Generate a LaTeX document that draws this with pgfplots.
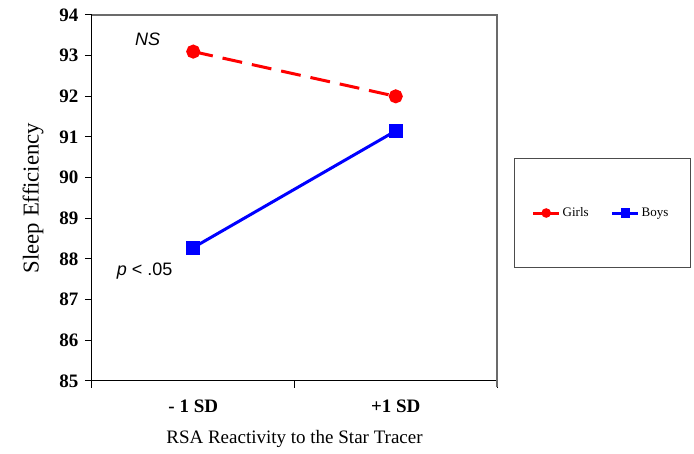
\documentclass[border=0pt]{standalone}
\usepackage{fontspec}
\setmainfont{Liberation Serif}
\newfontfamily\arial{Liberation Sans}
\usepackage{pgfplots}
\pgfplotsset{compat=1.18}
\begin{document}
\begin{tikzpicture}
\useasboundingbox (-92pt,-73pt) rectangle (602pt,381pt);
\begin{axis}[
  at={(0,0)}, anchor=south west,
  scale only axis, width=405pt, height=366pt,
  xmin=0, xmax=2, ymin=85, ymax=94,
  axis x line=bottom, axis y line=left,
  axis line style={line width=1pt, black, -},
  /pgf/number format/assume math mode=true,
  xtick={0.5,1.5}, xticklabels={- 1 SD, +1 SD},
  minor xtick={0,1,2},
  major x tick style={draw=none},
  minor tick length=7pt,
  minor x tick style={line width=1pt, black},
  ytick={85,86,...,94},
  y tick style={line width=1pt, black},
  major tick length=7pt,
  tick align=outside,
  ticklabel style={font=\fontsize{19}{22}\selectfont\bfseries},
  xticklabel style={yshift=-8pt},
  yticklabel style={xshift=-3pt},
  xlabel={RSA Reactivity to the Star Tracer},
  ylabel={Sleep Efficiency},
  xlabel style={font=\fontsize{19}{22}\selectfont, yshift=-11pt},
  ylabel style={font=\fontsize{22.7}{26}\selectfont, yshift=9pt},
  legend style={at={(1.257,0.459)}, anchor=center, draw=none, fill=none,
    font=\fontsize{13}{15}\selectfont, legend columns=2,
    /tikz/every even column/.append style={column sep=20pt}},
  legend image code/.code={
    \draw[#1, solid, line width=3pt] (0pt,0pt) -- (26pt,0pt);
    \draw[#1, solid, mark size=3.2pt, mark repeat=1] plot coordinates {(13pt,0pt)};
  },
  clip=false,
]
\draw[black!58, line width=1.6pt] (axis description cs:0,1) -- (axis description cs:1,1) -- (axis cs:2,85) -- ++(0pt,-6pt);
\addplot[red, line width=3pt, dash pattern=on 20pt off 10pt, mark=*, mark size=5.5pt, mark options={solid}] coordinates {(0.5,93.1) (1.5,92.0)};
\addlegendentry{Girls}
\addplot[blue, line width=3pt, mark=square*, mark size=5.5pt, mark options={solid}] coordinates {(0.5,88.28) (1.5,91.15)};
\addlegendentry{Boys}
\draw[black!70, line width=1pt] (axis description cs:1.042,0.309) rectangle (axis description cs:1.477,0.609);
\node[font=\arial\itshape\fontsize{18}{20}\selectfont] at (axis cs:0.2745,93.39) {NS};
\node[font=\arial\fontsize{18}{20}\selectfont] at (axis cs:0.26,87.71) {\textit{p} < .05};
\end{axis}
\end{tikzpicture}
\end{document}
